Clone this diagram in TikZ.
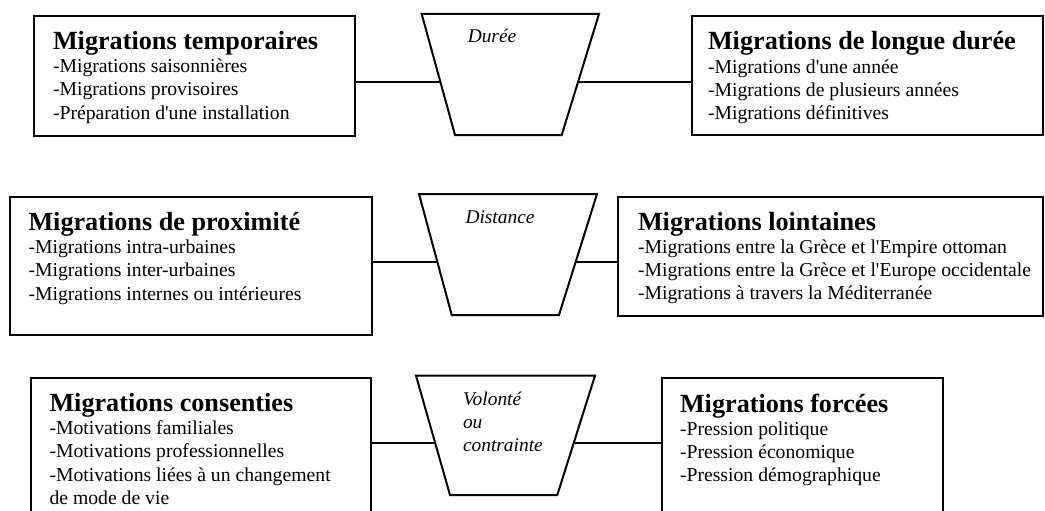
\documentclass[tikz,border=0pt]{standalone}
\usepackage{fontspec}
\setmainfont{Liberation Serif}
\pgfdeclarelayer{bg}
\pgfsetlayers{bg,main}
\newcommand\boxtext[2]{\vtop{\baselineskip=23.2pt\lineskiplimit=-100pt\lineskip=0pt
  \hbox{\fontsize{26.2}{28}\selectfont\bfseries #1}#2}}
\newcommand\bline[1]{\hbox{\fontsize{19.7}{23}\selectfont #1}}
\newcommand\iline[1]{\hbox{\fontsize{19.4}{23}\selectfont\itshape #1}}
\begin{document}
\begin{tikzpicture}[x=1pt,y=-1pt,
  box/.style={draw, line width=2pt, rectangle, anchor=north west, inner sep=0pt, outer sep=0pt},
  trapline/.style={draw, line width=2pt, fill=white, line join=miter},
  txt/.style={anchor=base west, inner sep=0pt, outer sep=0pt},
  lab/.style={anchor=base, inner sep=0pt, outer sep=0pt, font=\fontsize{19.4}{23}\selectfont\itshape},
  conn/.style={line width=2pt}]
\useasboundingbox (0,0) rectangle (1045,511);
\clip (0,0) rectangle (1045,511);

% row 1
\node[box, minimum width=321pt, minimum height=120pt] (A) at (34,16) {};
\node[txt] (At) at (53,49.5) {\boxtext{Migrations temporaires}{%
  \bline{-Migrations saisonnières}\bline{-Migrations provisoires}\bline{-Préparation d\textquotesingle une installation}}};
\draw[trapline] (421.7,14) -- (599,14) -- (561.7,135) -- (455,135) -- cycle;
\coordinate (T1) at (510,74.5);
\node[lab] (T1t) at (492,42.5) {Durée};
\node[box, minimum width=351pt, minimum height=119pt] (B) at (692,16) {};
\node[txt] (Bt) at (708,50) {\boxtext{Migrations de longue durée}{%
  \bline{-Migrations d\textquotesingle une année}\bline{-Migrations de plusieurs années}\bline{-Migrations définitives}}};
\coordinate (L1) at (0,81.7);

% row 2
\node[box, minimum width=361.7pt, minimum height=138.3pt] (C) at (10,196.7) {};
\node[txt] (Ct) at (28.5,230.5) {\boxtext{Migrations de proximité}{%
  \bline{-Migrations intra-urbaines}\bline{-Migrations inter-urbaines}\bline{-Migrations internes ou intérieures}}};
\draw[trapline] (419,194) -- (597,194) -- (559,315) -- (451.7,315) -- cycle;
\coordinate (T2) at (508,254.5);
\node[lab] (T2t) at (500,223) {Distance};
\node[box, minimum width=425pt, minimum height=119.3pt] (D) at (618,196.7) {};
\node[txt] (Dt) at (638,230) {\boxtext{Migrations lointaines}{%
  \bline{-Migrations entre la Grèce et l\textquotesingle Empire ottoman}\bline{-Migrations entre la Grèce et l\textquotesingle Europe occidentale}\bline{-Migrations à travers la Méditerranée}}};
\coordinate (L2) at (0,262.3);

% row 3
\node[box, minimum width=340pt, minimum height=160pt] (E) at (31,378) {};
\node[txt] (Et) at (49.5,411.5) {\boxtext{Migrations consenties}{%
  \bline{-Motivations familiales}\bline{-Motivations professionnelles}\bline{-Motivations liées à un changement}\bline{de mode de vie}}};
\draw[trapline] (416,375.7) -- (595,375.7) -- (557.3,495) -- (450,495) -- cycle;
\coordinate (T3) at (505.5,435.35);
\node[txt] (T3t) at (463,405) {\vtop{\baselineskip=23pt\lineskiplimit=-100pt\lineskip=0pt
  \iline{Volonté}\iline{ou}\iline{contrainte}}};
\node[box, minimum width=281pt, minimum height=160pt] (F) at (662,378) {};
\node[txt] (Ft) at (680,412) {\boxtext{Migrations forcées}{%
  \bline{-Pression politique}\bline{-Pression économique}\bline{-Pression démographique}}};
\coordinate (L3) at (0,443.3);

\begin{pgfonlayer}{bg}
\draw[conn] (A.east |- L1) -- (T1 |- L1);
\draw[conn] (T1 |- L1) -- (B.west |- L1);
\draw[conn] (C.east |- L2) -- (T2 |- L2);
\draw[conn] (T2 |- L2) -- (D.west |- L2);
\draw[conn] (E.east |- L3) -- (T3 |- L3);
\draw[conn] (T3 |- L3) -- (F.west |- L3);
\end{pgfonlayer}
\end{tikzpicture}
\end{document}
